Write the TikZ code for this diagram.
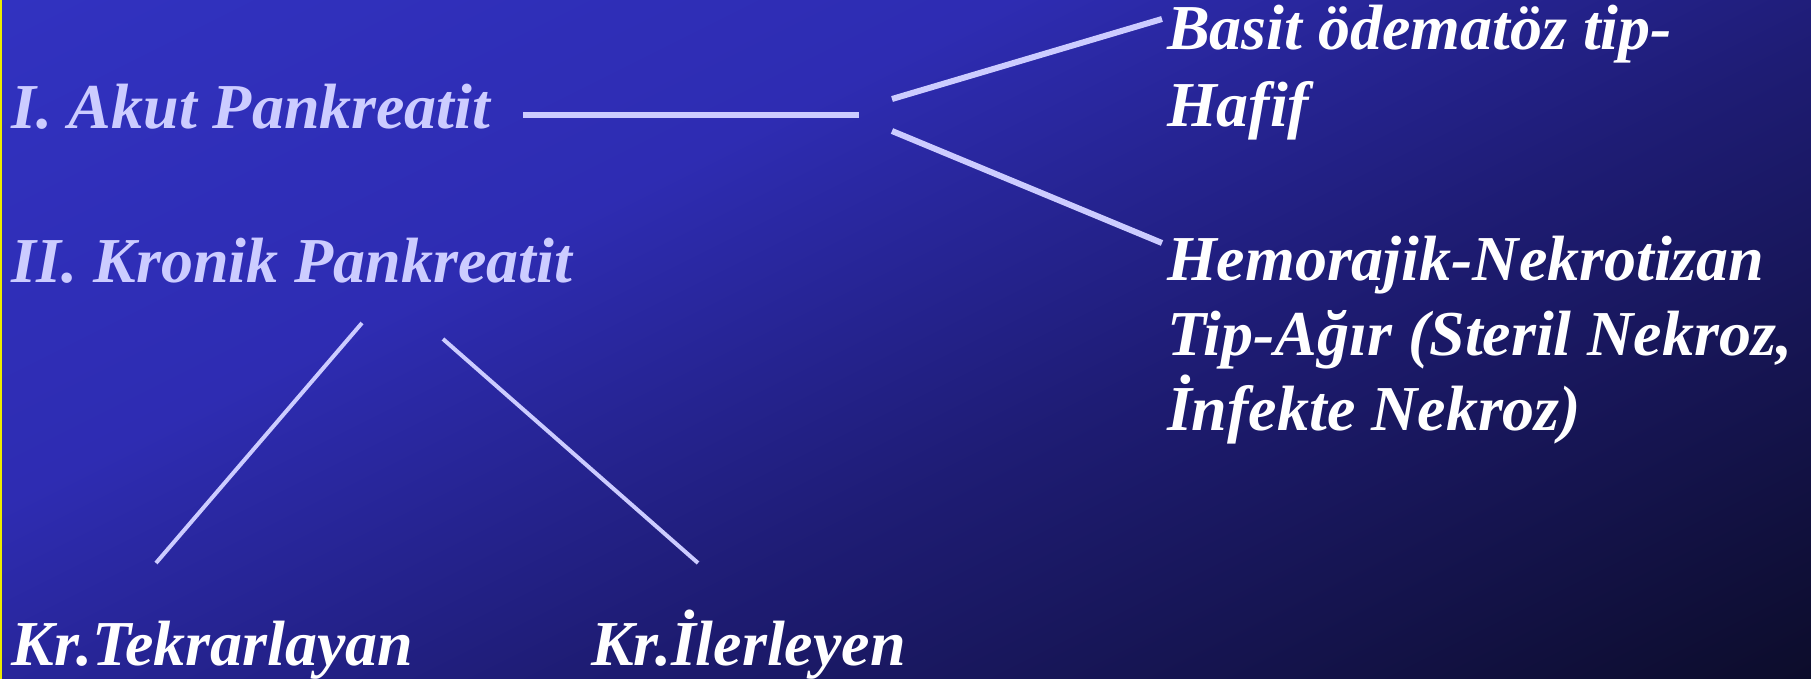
\documentclass[tikz,border=0pt]{standalone}
\usepackage{fontspec}
\setmainfont{Liberation Serif}

% palette
\definecolor{lav}{RGB}{204,204,255}
\definecolor{bgA}{RGB}{49,50,192}
\definecolor{bgB}{RGB}{46,44,178}
\definecolor{bgC}{RGB}{30,28,116}
\definecolor{bgD}{RGB}{12,12,42}
\definecolor{edge}{RGB}{235,235,0}

% diagonal background ramp, measured along the slope direction
\pgfdeclarehorizontalshading{bgramp}{4000bp}{%
  color(0bp)=(bgA); color(450bp)=(bgB); color(850bp)=(bgC); color(1416bp)=(bgD)}

\begin{document}
\begin{tikzpicture}[x=1pt,y=-1pt,
  label/.style={inner sep=0pt, outer sep=0pt, anchor=base west,
    font=\fontsize{64}{77}\selectfont\bfseries\itshape},
  head/.style={label, text=lav},
  leaf/.style={label, text=white, align=left},
  link/.style={draw=lav, line width=6pt},
  sublink/.style={draw=lav, line width=4pt}]

\useasboundingbox (0,0) rectangle (1811,679);

% background
\begin{scope}
  \clip (0,0) rectangle (1811,679);
  \fill[bgD] (0,0) rectangle (1811,679);
  \node[inner sep=0pt, outer sep=0pt, rotate=-63.43, anchor=west] (ramp) at (0,0) {\pgfuseshading{bgramp}};
\end{scope}
\draw[edge, line width=1.5pt] (0.75,0) -- (0.75,679);

% headings
\node[head] (akut) at (12,129) {I. Akut Pankreatit};
\node[head] (kronik) at (12,282) {II. Kronik Pankreatit};

% acute subtypes (anchored on the baseline of their last line)
\node[leaf] (basit) at (1167,127) {Basit ödematöz tip-\\Hafif};
\node[leaf, font=\fontsize{64}{75}\selectfont\bfseries\itshape] (hemo) at (1167,430)
  {Hemorajik-Nekrotizan\\Tip-Ağır (Steril Nekroz,\\İnfekte Nekroz)};

% chronic subtypes
\node[leaf] (tekrar) at (12,665) {Kr.Tekrarlayan};
\node[leaf] (ilerle) at (591,665) {Kr.İlerleyen};

% connector end points
\coordinate (ha) at (523,115);
\coordinate (hb) at (859,115);
\coordinate (ua) at (892,99);
\coordinate (ub) at (1162,19);
\coordinate (la) at (892,131);
\coordinate (lb) at (1162,243);
\coordinate (ka) at (362,323);
\coordinate (kb) at (156,563);
\coordinate (kc) at (443,339);
\coordinate (kd) at (698,563);

% connectors
\draw[link] (ha) -- (hb);
\draw[link] (ua) -- (ub);
\draw[link] (la) -- (lb);
\draw[sublink] (ka) -- (kb);
\draw[sublink] (kc) -- (kd);
\end{tikzpicture}
\end{document}
